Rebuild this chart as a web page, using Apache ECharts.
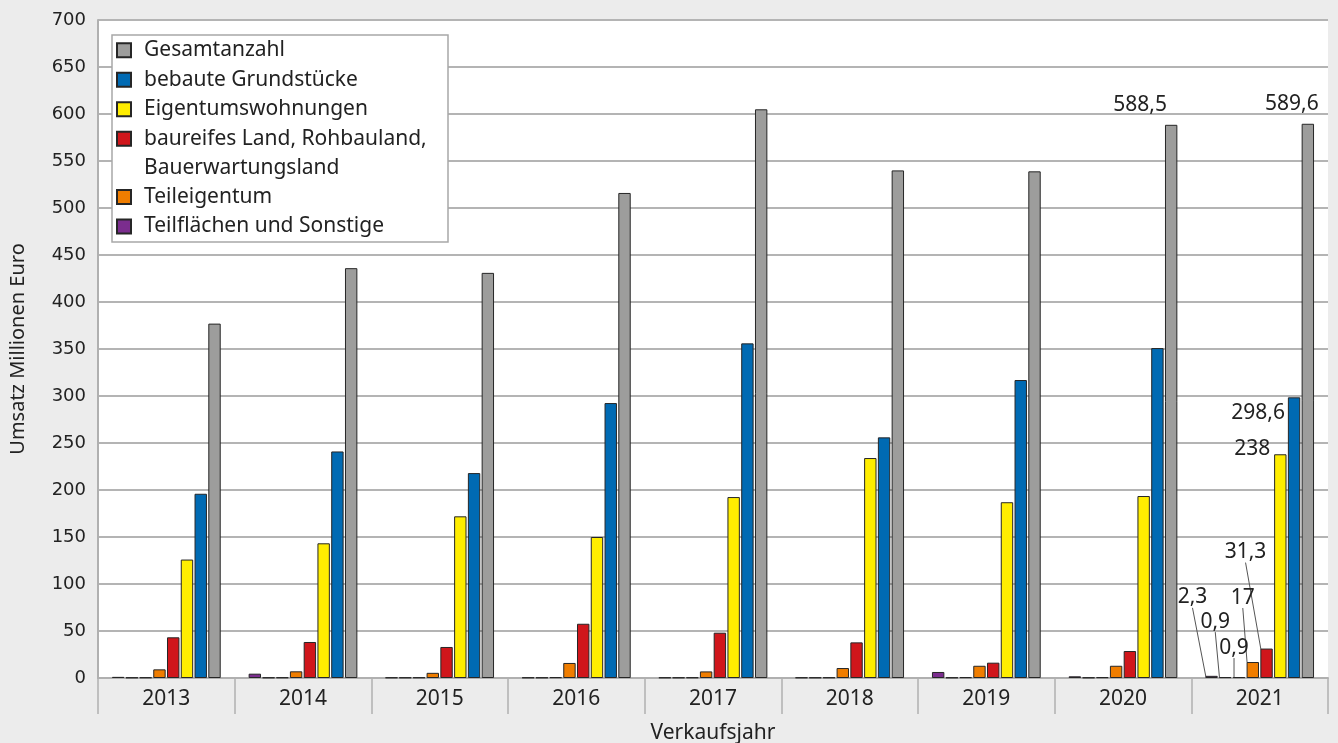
<!DOCTYPE html>
<html lang="de">
<head>
<meta charset="utf-8">
<title>Umsatz nach Verkaufsjahr</title>
<script src="https://cdn.jsdelivr.net/npm/echarts@6/dist/echarts.min.js"></script>
<style>
  html, body { margin: 0; padding: 0; background: #ececec; }
  #chart { width: 1338px; height: 743px; }
</style>
</head>
<body>
<div id="chart"></div>
<script>
// Verkaufsjahre (Kategorien)
const years = ['2013', '2014', '2015', '2016', '2017', '2018', '2019', '2020', '2021'];

// Umsatz in Millionen Euro je Teilmarkt
const teilflaechen       = [1.2, 4.6, 0.5, 0.5, 0.5, 0.5, 6.4, 1.8, 2.3];
const weitereA           = [0.5, 0.5, 0.5, 0.5, 0.5, 0.5, 0.5, 0.5, 0.9];
const weitereB           = [0.6, 0.6, 0.6, 0.8, 0.6, 0.6, 0.8, 0.8, 0.9];
const teileigentum       = [9.2, 7.1, 5.5, 16, 7, 10.6, 13, 13, 17];
const bauland            = [43.3, 38.3, 33, 57.7, 48.2, 37.9, 16.3, 28.7, 31.3];
const eigentumswohnungen = [126, 143.3, 172, 150, 192.5, 234, 187, 193.6, 238];
const bebaut             = [196, 241, 218, 292.5, 356, 256, 317, 351, 298.6];
const gesamt             = [377, 436, 431, 516, 605, 540, 539, 588.5, 589.6];

const FONT = '"Noto Sans", sans-serif';
const TEXT = '#222222';

const fmt = p => String(p.value).replace('.', ',');

// Builds one bar series; "shifts" maps a data index to the label shift [dx, dy]
function barSeries(name, values, color, shifts, withLine) {
  shifts = shifts || {};
  return {
    type: 'bar',
    name: name,
    data: values.map((v, i) => (shifts[i] ? { value: v, label: { show: true } } : v)),
    itemStyle: { color: color, borderColor: '#262626', borderWidth: 1 },
    label: {
      show: false, position: 'top', distance: 5, formatter: fmt,
      fontFamily: FONT, fontSize: 21, color: TEXT
    },
    labelLayout: p => {
      const s = shifts[p.dataIndex];
      return s ? { dx: s[0], dy: s[1] } : {};
    },
    labelLine: { show: !!withLine, lineStyle: { color: '#555555', width: 1 } },
    emphasis: { disabled: true },
    barWidth: 12.4,
    barGap: '11%'
  };
}

const series = [
  barSeries('Teilflächen und Sonstige', teilflaechen, '#7b2d8e', { 8: [-19, -63] }, true),
  barSeries('weitere A', weitereA, '#3a3a3a', { 8: [-10, -40] }, true),
  barSeries('weitere B', weitereB, '#3a3a3a', { 8: [-5, -14] }, true),
  barSeries('Teileigentum', teileigentum, '#ef7d00', { 8: [-10, -49] }, true),
  barSeries('baureifes Land, Rohbauland, Bauerwartungsland', bauland, '#d0161b', { 8: [-21, -81] }, true),
  barSeries('Eigentumswohnungen', eigentumswohnungen, '#ffed00', { 8: [-28, 10] }, false),
  barSeries('bebaute Grundstücke', bebaut, '#006ab3', { 8: [-36, 31] }, false),
  barSeries('Gesamtanzahl', gesamt, '#9d9d9c', { 7: [-31, -4], 8: [-16, -4] }, false)
];

const legendBase = {
  orient: 'vertical',
  left: 116,
  padding: 0,
  itemWidth: 14,
  itemHeight: 14,
  itemGap: 0,
  icon: 'rect',
  selectedMode: false,
  z: 5,
  textStyle: { fontFamily: FONT, fontSize: 21, color: TEXT, lineHeight: 29.5, padding: [0, 0, 0, 8] }
};

const option = {
  animation: false,
  backgroundColor: '#ececec',
  grid: {
    left: 98, right: 10, top: 20, bottom: 65,
    outerBoundsMode: 'none',
    containLabel: false,
    show: true, backgroundColor: '#ffffff', borderWidth: 0
  },
  graphic: [{
    type: 'rect', z: 4,
    shape: { x: 112, y: 35, width: 336, height: 207 },
    style: { fill: '#ffffff', stroke: '#a8a8a8', lineWidth: 1.5 }
  }],
  legend: [
    Object.assign({}, legendBase, { top: 35.5, data: ['Gesamtanzahl', 'bebaute Grundstücke', 'Eigentumswohnungen'] }),
    // two-line entry: a blank first line keeps the icon level with the first text line
    Object.assign({}, legendBase, {
      top: 94.5,
      data: ['baureifes Land, Rohbauland, Bauerwartungsland'],
      formatter: n => ' \n' + n.replace(', Bauer', ',\nBauer')
    }),
    Object.assign({}, legendBase, { top: 182.25, data: ['Teileigentum', 'Teilflächen und Sonstige'] })
  ],
  xAxis: {
    type: 'category',
    data: years,
    name: 'Verkaufsjahr',
    nameLocation: 'middle',
    nameGap: 45,
    nameTextStyle: { fontFamily: FONT, fontSize: 21, color: TEXT },
    axisLine: { lineStyle: { color: '#b0b0b0', width: 2 } },
    axisTick: { show: true, length: 36, lineStyle: { color: '#b0b0b0', width: 1.5 } },
    axisLabel: { fontFamily: FONT, fontSize: 21, color: TEXT, margin: 11 }
  },
  yAxis: {
    type: 'value',
    min: 0, max: 700, interval: 50,
    name: 'Umsatz Millionen Euro',
    nameLocation: 'middle',
    nameGap: 70,
    nameTextStyle: { fontFamily: FONT, fontSize: 20, color: TEXT },
    axisLine: { show: true, lineStyle: { color: '#b0b0b0', width: 2 } },
    axisTick: { show: false },
    splitLine: { lineStyle: { color: '#b4b4b4', width: 2 } },
    axisLabel: { fontFamily: '"DejaVu Sans", sans-serif', fontSize: 18, color: TEXT, margin: 12 }
  },
  series: series
};

const chart = echarts.init(document.getElementById('chart'), null, { renderer: 'canvas' });
chart.setOption(option);
</script>
</body>
</html>
